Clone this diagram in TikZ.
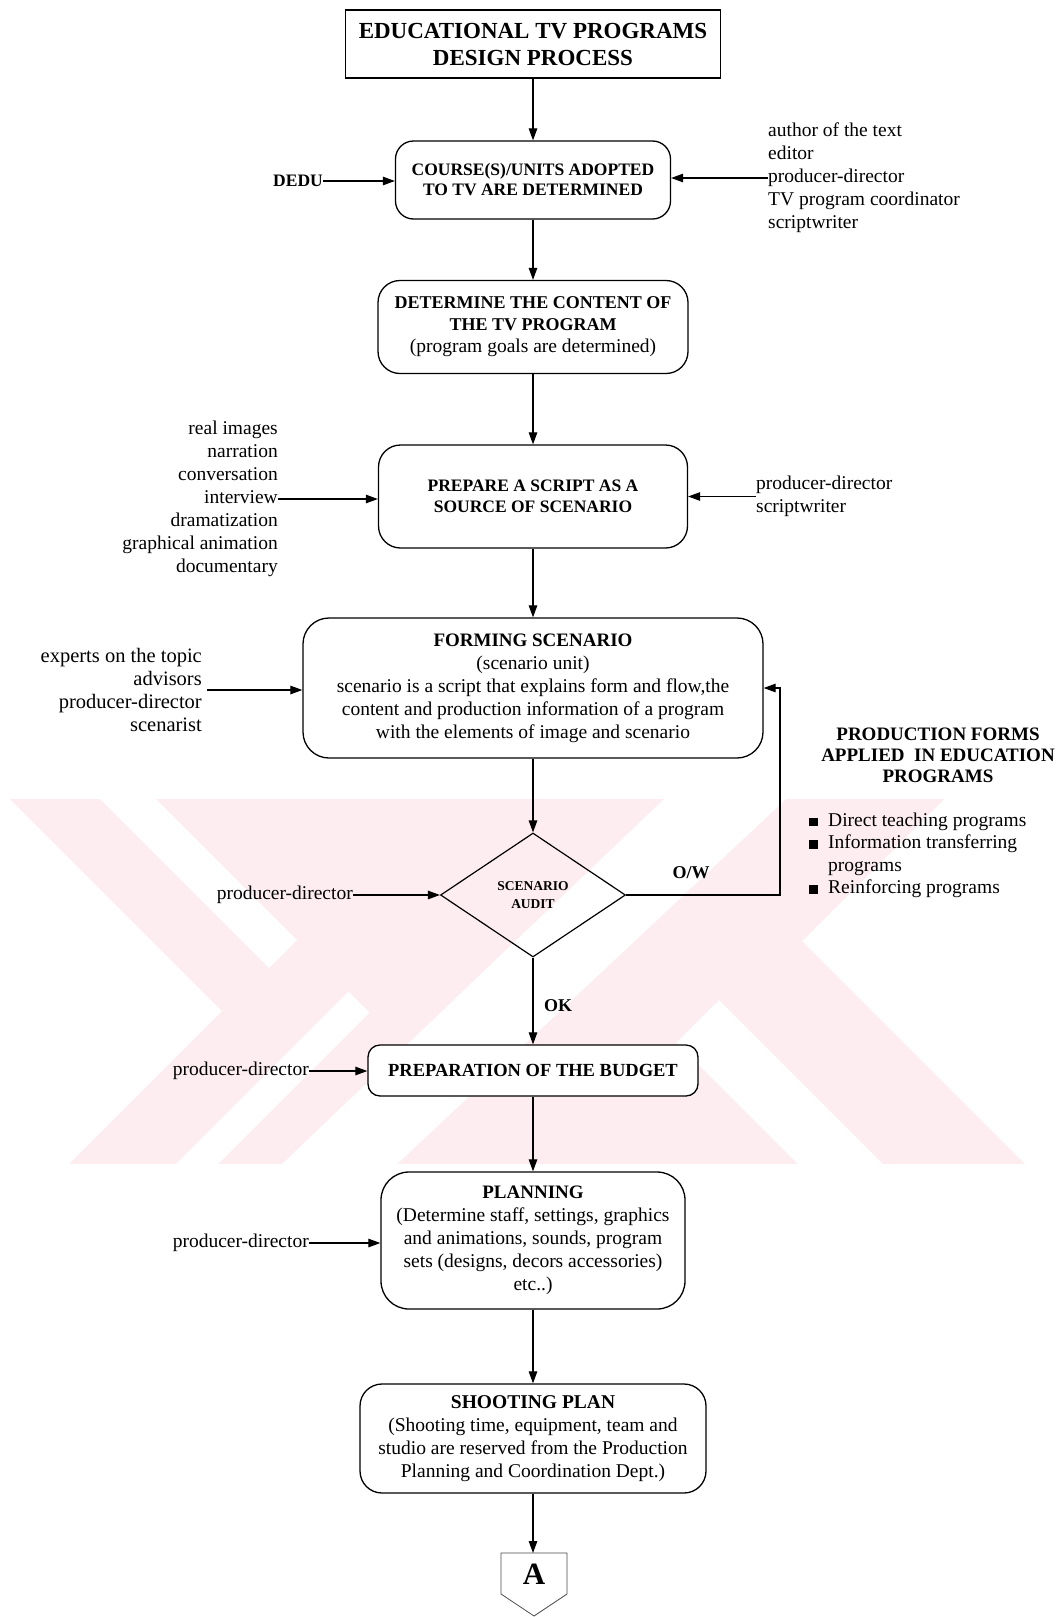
\documentclass[tikz,border=0pt]{standalone}
\usepackage{fontspec}
\setmainfont{Liberation Serif}
\usetikzlibrary{shapes.geometric,arrows.meta}
\definecolor{wmpink}{RGB}{253,237,240}
\newcommand{\regsize}{\fontsize{19.5}{23}\selectfont}
\newcommand{\sqbul}{\makebox[19pt][l]{\rule{8.5pt}{8.5pt}}}

\begin{document}
\begin{tikzpicture}[x=1pt,y=-1pt,
  box/.style={draw, line width=1.3pt, fill=white, align=center, inner sep=0pt},
  arr/.style={line width=1.2pt, -{Triangle[length=12pt,width=8.5pt]}},
  lbl/.style={inner sep=0pt, font=\regsize},
]
\useasboundingbox (0,0) rectangle (1062,1617);
\fill[white] (0,0) rectangle (1062,1617);

% background emblem (light stripes)
\begin{scope}
  \clip (0,799) rectangle (1062,1163);
  \fill[wmpink] (10,799) -- (944,799) -- (802,941) -- (1027,1166) -- (67,1166) -- (222,1011) -- cycle;
  \fill[white] (100,799) -- (156,799) -- (297,940) -- (269,968) -- cycle;
  \fill[white] (174,1166) -- (216,1166) -- (369.5,1012.5) -- (348.5,991.5) -- cycle;
  \fill[white] (664,799) -- (786,799) -- (395,1166) -- (280,1166) -- cycle;
  \fill[white] (719,1000) -- (885,1166) -- (800,1166) -- (676.5,1042.5) -- cycle;
\end{scope}

% main flow
\node[box, minimum width=375pt, minimum height=68pt,
      font=\bfseries\fontsize{23}{27}\selectfont] (title) at (533,44)
      {EDUCATIONAL TV PROGRAMS\\DESIGN PROCESS};

\node[box, rounded corners=18pt, minimum width=275pt, minimum height=78pt,
      font=\bfseries\fontsize{17.5}{20}\selectfont] (course) at (533,180)
      {COURSE(S)/UNITS ADOPTED\\TO TV ARE DETERMINED};

\node[box, rounded corners=22pt, minimum width=310pt, minimum height=93pt,
      font=\bfseries\fontsize{18}{22}\selectfont] (content) at (533,327)
      {DETERMINE THE CONTENT OF\\THE TV PROGRAM\\{\mdseries\regsize (program goals are determined)}};

\node[box, rounded corners=22pt, minimum width=309pt, minimum height=103pt,
      font=\bfseries\fontsize{17.5}{21}\selectfont] (script) at (533,496.5)
      {PREPARE A SCRIPT AS A\\SOURCE OF SCENARIO};

\node[box, rounded corners=26pt, minimum width=460pt, minimum height=140pt,
      font=\regsize] (scen) at (533,688)
      {{\bfseries\fontsize{19}{23}\selectfont FORMING SCENARIO}\\(scenario unit)\\scenario is a script that explains form and flow,the\\content and production information of a program\\with the elements of image and scenario};

\node[diamond, draw, line width=1.2pt, minimum width=185pt, minimum height=124pt,
      inner sep=0pt, align=center, font=\bfseries\fontsize{13.5}{18}\selectfont] (audit) at (533,895)
      {SCENARIO\\AUDIT};

\node[box, rounded corners=12pt, minimum width=330pt, minimum height=51pt,
      font=\bfseries\fontsize{18.5}{22}\selectfont] (budget) at (533,1070.5)
      {PREPARATION OF THE BUDGET};

\node[box, rounded corners=28pt, minimum width=304pt, minimum height=137pt,
      font=\regsize] (plan) at (533,1240.5)
      {{\bfseries\fontsize{19}{23}\selectfont PLANNING}\\(Determine staff, settings, graphics\\and animations, sounds, program\\sets (designs, decors accessories)\\etc..)};

\node[box, rounded corners=22pt, minimum width=346pt, minimum height=109pt,
      font=\regsize] (shoot) at (533,1438.5)
      {{\bfseries\fontsize{19.5}{23}\selectfont SHOOTING PLAN}\\(Shooting time, equipment, team and\\studio are reserved from the Production\\Planning and Coordination Dept.)};

% off-page connector
\coordinate (Atop) at (533,1553);
\draw[line width=0.8pt, black!70] (501,1553) -- (567,1553) -- (567,1594) -- (534,1616) -- (501,1594) -- cycle;
\node[inner sep=0pt, font=\bfseries\fontsize{31}{31}\selectfont] (A) at (534,1574) {A};

% vertical connectors
\draw[arr] (title) -- (course);
\draw[arr] (course) -- (content);
\draw[arr] (content) -- (script);
\draw[arr] (script) -- (scen);
\draw[arr] (scen) -- (audit);
\draw[arr] (audit) -- (budget);
\draw[arr] (budget) -- (plan);
\draw[arr] (plan) -- (shoot);
\draw[arr] (shoot) -- (shoot.south |- Atop);

% feedback loop
\coordinate (owturn) at (780,895);
\draw[arr] (audit.east) -- (owturn) |- (scen.east);
\node[inner sep=0pt, font=\bfseries\fontsize{18}{20}\selectfont] (ow) at (691,873) {O/W};
\node[inner sep=0pt, font=\bfseries\fontsize{18}{20}\selectfont] (ok) at (558,1006) {OK};

% inputs
\node[lbl, anchor=east, font=\bfseries\fontsize{17.5}{20}\selectfont] (dedu) at (323,181) {DEDU};
\draw[arr] (dedu.east) -- (dedu.east -| course.west);

\node[lbl, anchor=west, align=left] (crew) at (768,178)
      {author of the text\\editor\\producer-director\\TV program coordinator\\scriptwriter};
\draw[arr] (crew.west) -- (crew.west -| course.east);

\node[lbl, anchor=east, align=right] (forms) at (278,499)
      {real images\\narration\\conversation\\interview\\dramatization\\graphical animation\\documentary};
\draw[arr] (forms.east) -- (forms.east -| script.west);

\node[lbl, anchor=west, align=left] (writers) at (756,496.5) {producer-director\\scriptwriter};
\draw[arr] (writers.west) -- (writers.west -| script.east);

\node[lbl, anchor=east, align=right, font=\fontsize{20.5}{23}\selectfont] (experts) at (202,690)
      {experts on the topic\\advisors\\producer-director\\scenarist};
\draw[arr] ([xshift=5pt]experts.east) -- (experts.east -| scen.west);

\node[lbl, anchor=east] (pd1) at (353,895) {producer-director};
\draw[arr] (pd1.east) -- (pd1.east -| audit.west);

\node[lbl, anchor=east] (pd2) at (309,1071) {producer-director};
\draw[arr] (pd2.east) -- (pd2.east -| budget.west);

\node[lbl, anchor=east] (pd3) at (309,1243) {producer-director};
\draw[arr] (pd3.east) -- (pd3.east -| plan.west);

% side panel
\node[inner sep=0pt, align=center, font=\bfseries\fontsize{19}{21}\selectfont] (pfhead) at (938,755)
      {PRODUCTION FORMS\\APPLIED\ \ IN EDUCATION\\PROGRAMS};
\node[lbl, anchor=west, align=left, font=\fontsize{19.5}{22.5}\selectfont] (pflist) at (809,855.5)
      {\sqbul Direct teaching programs\\\sqbul Information transferring\\\hspace*{19pt}programs\\\sqbul Reinforcing programs};
\end{tikzpicture}
\end{document}
